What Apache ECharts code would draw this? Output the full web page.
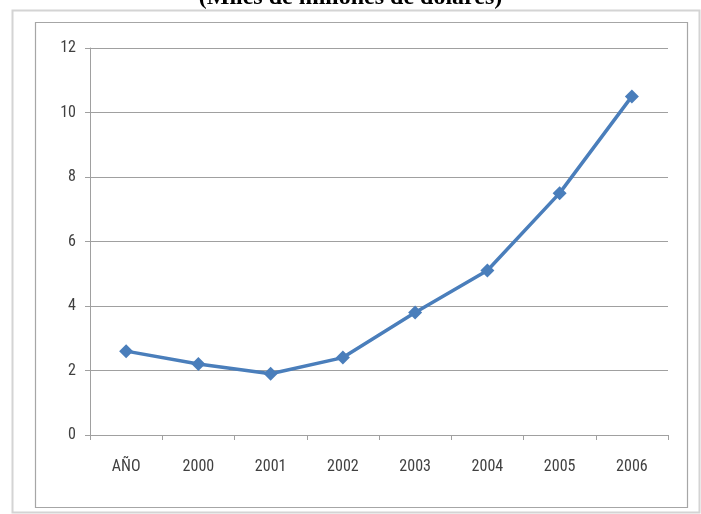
<!DOCTYPE html>
<html><head><meta charset="utf-8">
<script src="https://cdn.jsdelivr.net/npm/echarts@6/dist/echarts.min.js"></script>
<style>html,body{margin:0;padding:0;background:#fff}#c{width:701px;height:514px}</style>
</head><body><div id="c"></div>
<script>
const categories = ['AÑO','2000','2001','2002','2003','2004','2005','2006'];
const values = [2.6, 2.2, 1.9, 2.4, 3.8, 5.1, 7.5, 10.5];
const yTicks = [0, 2, 4, 6, 8, 10, 12];
const titleText = '(Miles de millones de dólares)';

const labelFont = '"Roboto Condensed", "Roboto", sans-serif';
const chart = echarts.init(document.getElementById('c'), null, {renderer:'canvas'});
chart.setOption({
  animation:false,
  backgroundColor:'#fff',
  graphic:[
    {type:'rect', shape:{x:12.5,y:10.5,width:687,height:502}, style:{fill:'none',stroke:'#d4d4d4',lineWidth:2}},
    {type:'rect', shape:{x:35.5,y:22.5,width:652,height:485}, style:{fill:'none',stroke:'#a6a6a6',lineWidth:1.2}},
    {type:'text', left:'center', top:-14, style:{text:titleText, font:'bold 24px "Liberation Serif", serif', fill:'#000'}}
  ],
  grid:{left:90, right:33, top:48, bottom:79},
  xAxis:{
    type:'category', data:categories, boundaryGap:true,
    axisLine:{lineStyle:{color:'#a0a0a0', width:1}},
    axisTick:{show:true, length:5, lineStyle:{color:'#a0a0a0'}, alignWithLabel:false},
    axisLabel:{color:'#404040', fontSize:16, margin:24, fontFamily:labelFont}
  },
  yAxis:{
    type:'value', min:0, max:12, interval:2,
    axisLine:{show:true, lineStyle:{color:'#a0a0a0', width:1}},
    axisTick:{show:true, length:5, lineStyle:{color:'#a0a0a0'}},
    axisLabel:{color:'#404040', fontSize:16, margin:14, fontFamily:labelFont,
      formatter:v=>yTicks.includes(v)?String(v):''},
    splitLine:{show:true, lineStyle:{color:'#a0a0a0', width:1}}
  },
  series:[{
    type:'line', data:values,
    lineStyle:{color:'#4a7ebb', width:3.5},
    itemStyle:{color:'#4a7ebb'},
    symbol:'diamond', symbolSize:14, showSymbol:true
  }]
});
</script></body></html>
